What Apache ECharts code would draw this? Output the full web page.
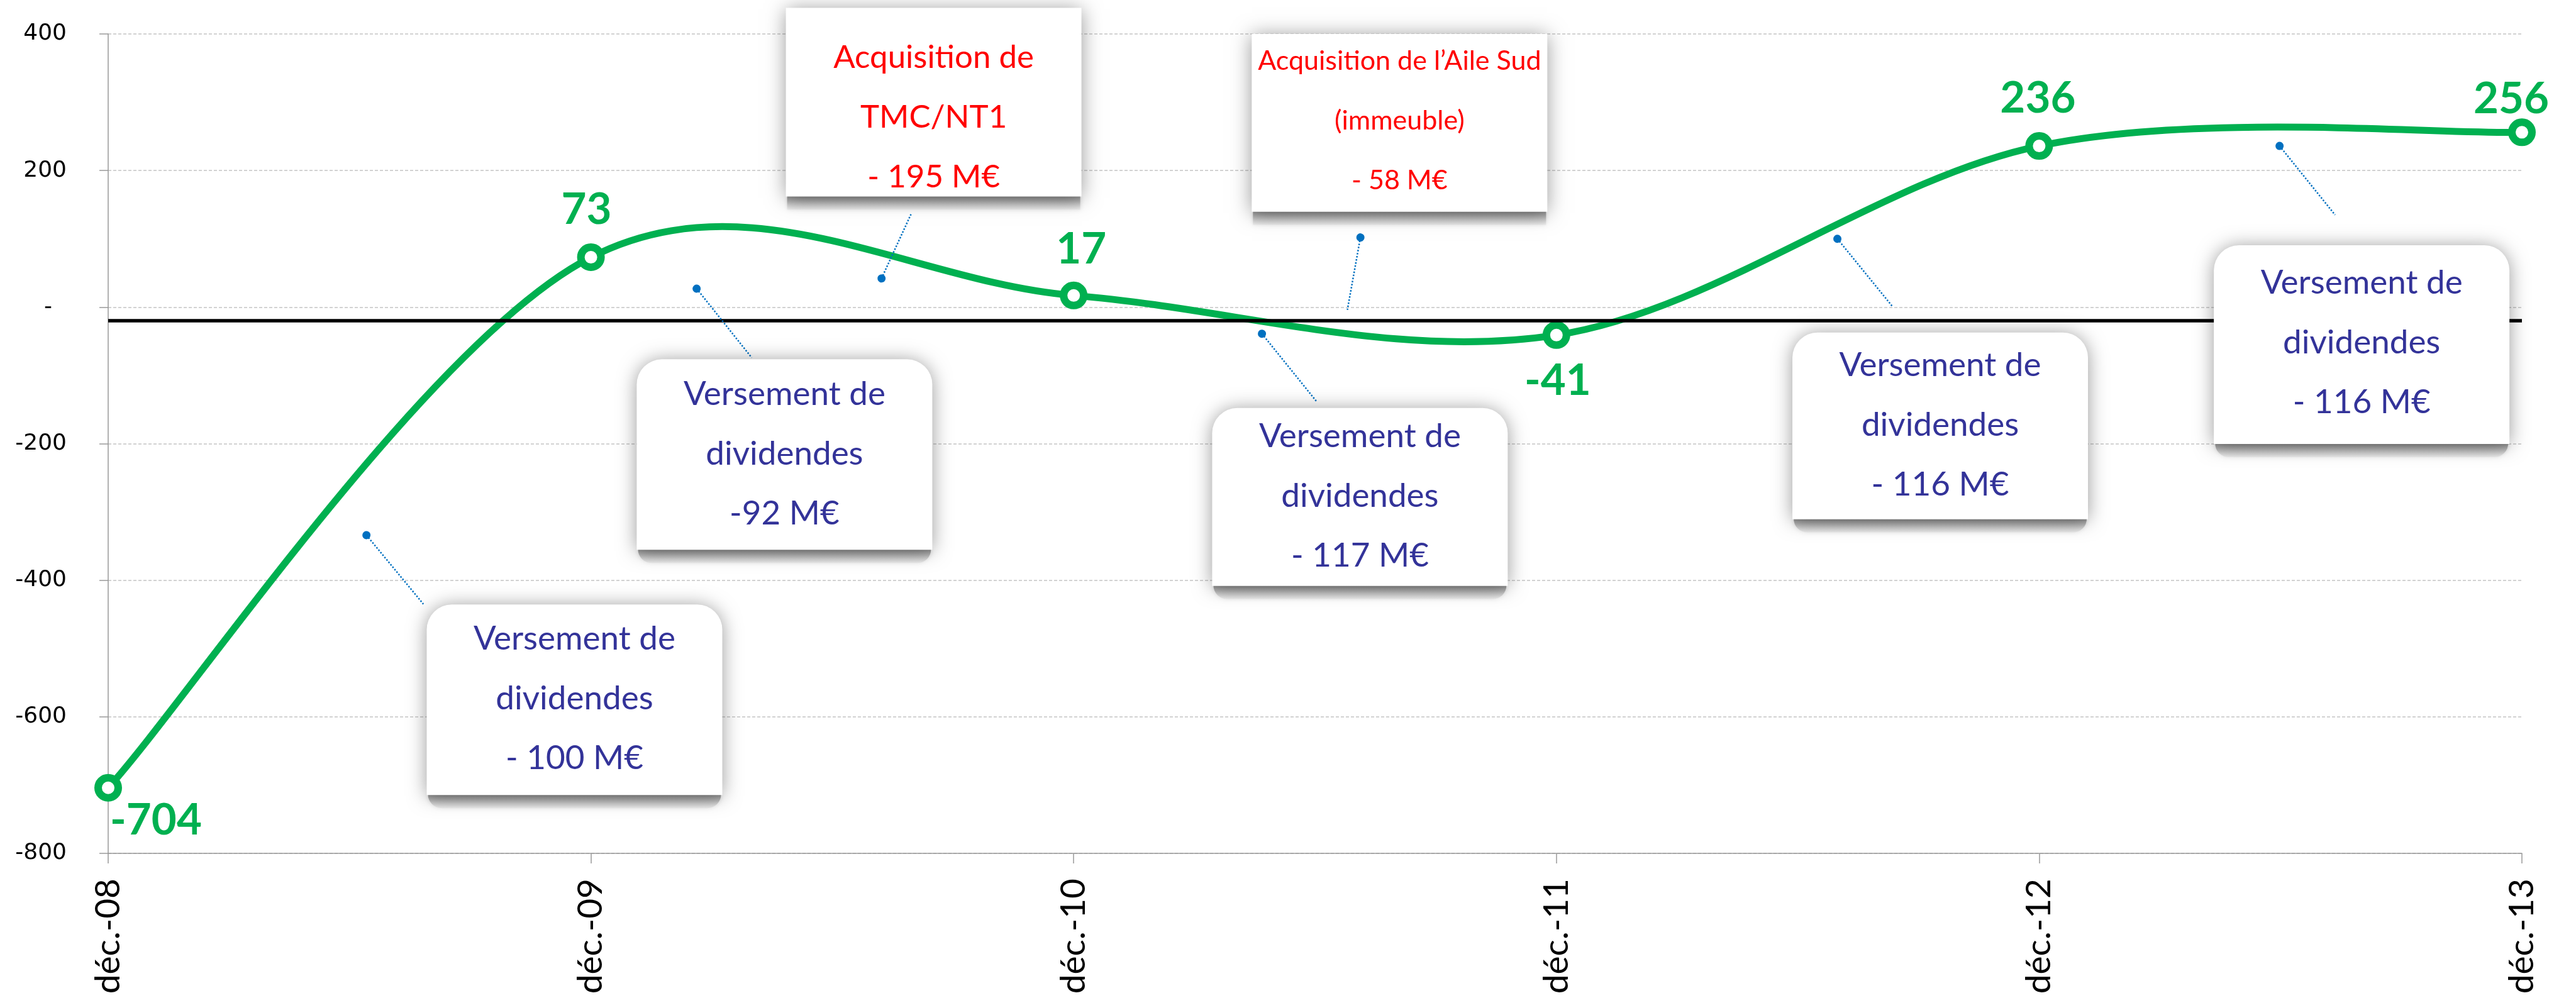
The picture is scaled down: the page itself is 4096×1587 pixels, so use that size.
<!DOCTYPE html>
<html>
<head>
<meta charset="utf-8">
<script src="https://cdn.jsdelivr.net/npm/echarts@6/dist/echarts.min.js"></script>
<style>
  html, body { margin: 0; padding: 0; background: #fff; }
  #chart { width: 4096px; height: 1587px; }
</style>
</head>
<body>
<div id="chart"></div>
<script>
// chart data
const categories = ["déc.-08", "déc.-09", "déc.-10", "déc.-11", "déc.-12", "déc.-13"];
const tresorerie = [-704, 73, 17, -41, 236, 256];
const zeroLine = -20;

// callouts (positions in axis units)
const calloutText = [
  ["Versement de", "dividendes", "- 100 M€"],
  ["Versement de", "dividendes", "-92 M€"],
  ["Acquisition de", "TMC/NT1", "- 195 M€"],
  ["Acquisition de l\u2019Aile Sud", "(immeuble)", "- 58 M€"],
  ["Versement de", "dividendes", "- 117 M€"],
  ["Versement de", "dividendes", "- 116 M€"],
  ["Versement de", "dividendes", "- 116 M€"]
];
const calloutKind = ["div", "div", "acq", "acq", "div", "div", "div"];
const calloutCenter = [[0.966, -575], [1.401, -216], [1.710, 300], [2.675, 270], [2.593, -278], [3.795, -174], [4.668, -55]];
const calloutHeight = [303, 303, 300, 283, 283, 297, 316];
const calloutTextDy = [-2, -1, 24, -3, -1, -1, -3];
const calloutFont = [53, 53, 51, 43, 53, 53, 53];
const leaderFrom = [[0.535, -334], [1.219, 27], [1.602, 42], [2.594, 102], [2.390, -39], [3.582, 100], [4.498, 236]];
const leaderTo = [[0.653, -435], [1.333, -74], [1.663, 136], [2.567, -4], [2.504, -139], [3.696, 1], [4.613, 135]];

// value label offsets (px)
const labelOffsets = [[76, 52], [-7, -75], [12, -73], [2, 73], [-2, -75], [-17, -53]];

const GREEN = "#00B050";
const BOX_W = 470;

var chart = echarts.init(document.getElementById("chart"));

var lineData = tresorerie.map(function (v, i) {
  return { value: [i, v], label: { offset: labelOffsets[i] } };
});

// smoothed curve, one bezier segment per interval (Catmull-Rom style, like the office chart)
function renderCurve(params, api) {
  var i = params.dataIndex;
  var n = tresorerie.length;
  if (i >= n - 1) return null;
  function pt(k) {
    k = Math.max(0, Math.min(n - 1, k));
    return api.coord([k, tresorerie[k]]);
  }
  var p0 = pt(i - 1), p1 = pt(i), p2 = pt(i + 1), p3 = pt(i + 2);
  return {
    type: "bezierCurve",
    shape: {
      x1: p1[0], y1: p1[1],
      x2: p2[0], y2: p2[1],
      cpx1: p1[0] + (p2[0] - p0[0]) / 6,
      cpy1: p1[1] + (p2[1] - p0[1]) / 6,
      cpx2: p2[0] - (p3[0] - p1[0]) / 6,
      cpy2: p2[1] - (p3[1] - p1[1]) / 6
    },
    style: { fill: null, stroke: GREEN, lineWidth: 11, lineCap: "round" }
  };
}

var leaders = leaderFrom.map(function (p, i) {
  return [{ coord: p }, { coord: leaderTo[i] }];
});

var curls = calloutCenter.map(function (c, i) {
  var div = calloutKind[i] === "div";
  return {
    coord: c,
    name: " ",
    label: {
      width: BOX_W - 4,
      height: 22,
      offset: [0, calloutHeight[i] / 2 + 10],
      backgroundColor: {
        type: "linear", x: 0, y: 0, x2: 0, y2: 1,
        colorStops: [
          { offset: 0, color: "#8e8e8e" },
          { offset: 0.45, color: "#b9b9b9" },
          { offset: 1, color: "rgba(228,228,228,0.5)" }
        ]
      },
      borderRadius: div ? [0, 0, 34, 34] : 0,
      shadowBlur: 6,
      shadowColor: "rgba(0,0,0,0.15)"
    }
  };
});

var boxes = calloutCenter.map(function (c, i) {
  var div = calloutKind[i] === "div";
  return {
    coord: c,
    name: " ",
    label: {
      width: BOX_W,
      height: calloutHeight[i],
      backgroundColor: "#ffffff",
      borderRadius: div ? [40, 40, 0, 0] : 0,
      shadowBlur: 30,
      shadowColor: "rgba(0,0,0,0.4)",
      shadowOffsetX: 0,
      shadowOffsetY: 2
    }
  };
});

var texts = calloutCenter.map(function (c, i) {
  var div = calloutKind[i] === "div";
  return {
    coord: c,
    name: calloutText[i].join("\n"),
    label: {
      offset: [0, calloutTextDy[i]],
      color: div ? "#333399" : "#FF0000",
      fontSize: calloutFont[i]
    }
  };
});

var option = {
  backgroundColor: "#ffffff",
  animation: false,
  grid: {
    left: 172,
    right: 86,
    top: 54,
    bottom: 230,
    containLabel: false
  },
  xAxis: {
    type: "value",
    min: 0,
    max: 5,
    interval: 1,
    axisLine: { show: true, onZero: false, lineStyle: { color: "#999999", width: 1.5 } },
    axisTick: { show: true, length: 16, lineStyle: { color: "#999999", width: 1.5 } },
    splitLine: { show: false },
    axisLabel: {
      rotate: 90,
      margin: 40,
      fontFamily: "Lato",
      fontSize: 55,
      color: "#000000",
      formatter: function (v) {
        return categories[v] || "";
      }
    }
  },
  yAxis: {
    type: "value",
    min: -800,
    max: 400,
    interval: 200,
    axisLine: { show: true, onZero: false, lineStyle: { color: "#999999", width: 1.5 } },
    axisTick: { show: true, length: 14, lineStyle: { color: "#999999", width: 1.5 } },
    splitLine: {
      show: true,
      lineStyle: { color: "#c4c4c4", width: 1.5, type: [5, 3] }
    },
    axisLabel: {
      margin: 66,
      fontFamily: "DejaVu Sans",
      fontSize: 36,
      color: "#000000",
      formatter: function (v) {
        return v === 0 ? "-  " : String(v);
      }
    }
  },
  series: [
    {
      // black reference line
      type: "line",
      data: [],
      z: 1,
      silent: true,
      markLine: {
        silent: true,
        symbol: ["none", "none"],
        label: { show: false },
        lineStyle: { color: "#000000", width: 5.5, type: "solid" },
        data: [[{ coord: [0, zeroLine] }, { coord: [5, zeroLine] }]]
      }
    },
    {
      // the curve
      type: "custom",
      z: 2,
      silent: true,
      data: tresorerie.map(function (v, i) { return [i, v]; }),
      renderItem: renderCurve
    },
    {
      name: "Trésorerie",
      type: "line",
      z: 3,
      data: lineData,
      symbol: "circle",
      symbolSize: 32,
      itemStyle: { color: "#ffffff", borderColor: GREEN, borderWidth: 12 },
      lineStyle: { opacity: 0 },
      emphasis: { disabled: true },
      label: {
        show: true,
        position: "inside",
        fontFamily: "Lato",
        fontWeight: "bold",
        fontSize: 69,
        color: GREEN,
        formatter: function (p) {
          return p.value[1];
        }
      }
    },
    {
      // leaders
      type: "line",
      data: [],
      z: 4,
      silent: true,
      markLine: {
        silent: true,
        symbol: ["circle", "none"],
        symbolSize: [13, 13],
        label: { show: false },
        lineStyle: { color: "#0070C0", width: 2.5, type: "dotted" },
        data: leaders
      }
    },
    {
      // curled shadow under boxes
      type: "line",
      data: [],
      z: 5,
      silent: true,
      markPoint: {
        silent: true,
        symbol: "rect",
        symbolSize: 1,
        itemStyle: { color: "rgba(0,0,0,0)" },
        label: { show: true, position: "inside", formatter: "{b}" },
        data: curls
      }
    },
    {
      // boxes
      type: "line",
      data: [],
      z: 6,
      silent: true,
      markPoint: {
        silent: true,
        symbol: "rect",
        symbolSize: 1,
        itemStyle: { color: "rgba(0,0,0,0)" },
        label: { show: true, position: "inside", formatter: "{b}" },
        data: boxes
      }
    },
    {
      // callout text
      type: "line",
      data: [],
      z: 7,
      silent: true,
      markPoint: {
        silent: true,
        symbol: "rect",
        symbolSize: 1,
        itemStyle: { color: "rgba(0,0,0,0)" },
        label: {
          show: true,
          position: "inside",
          formatter: "{b}",
          fontFamily: "Lato",
          lineHeight: 95,
          align: "center"
        },
        data: texts
      }
    }
  ]
};

chart.setOption(option);
</script>
</body>
</html>
